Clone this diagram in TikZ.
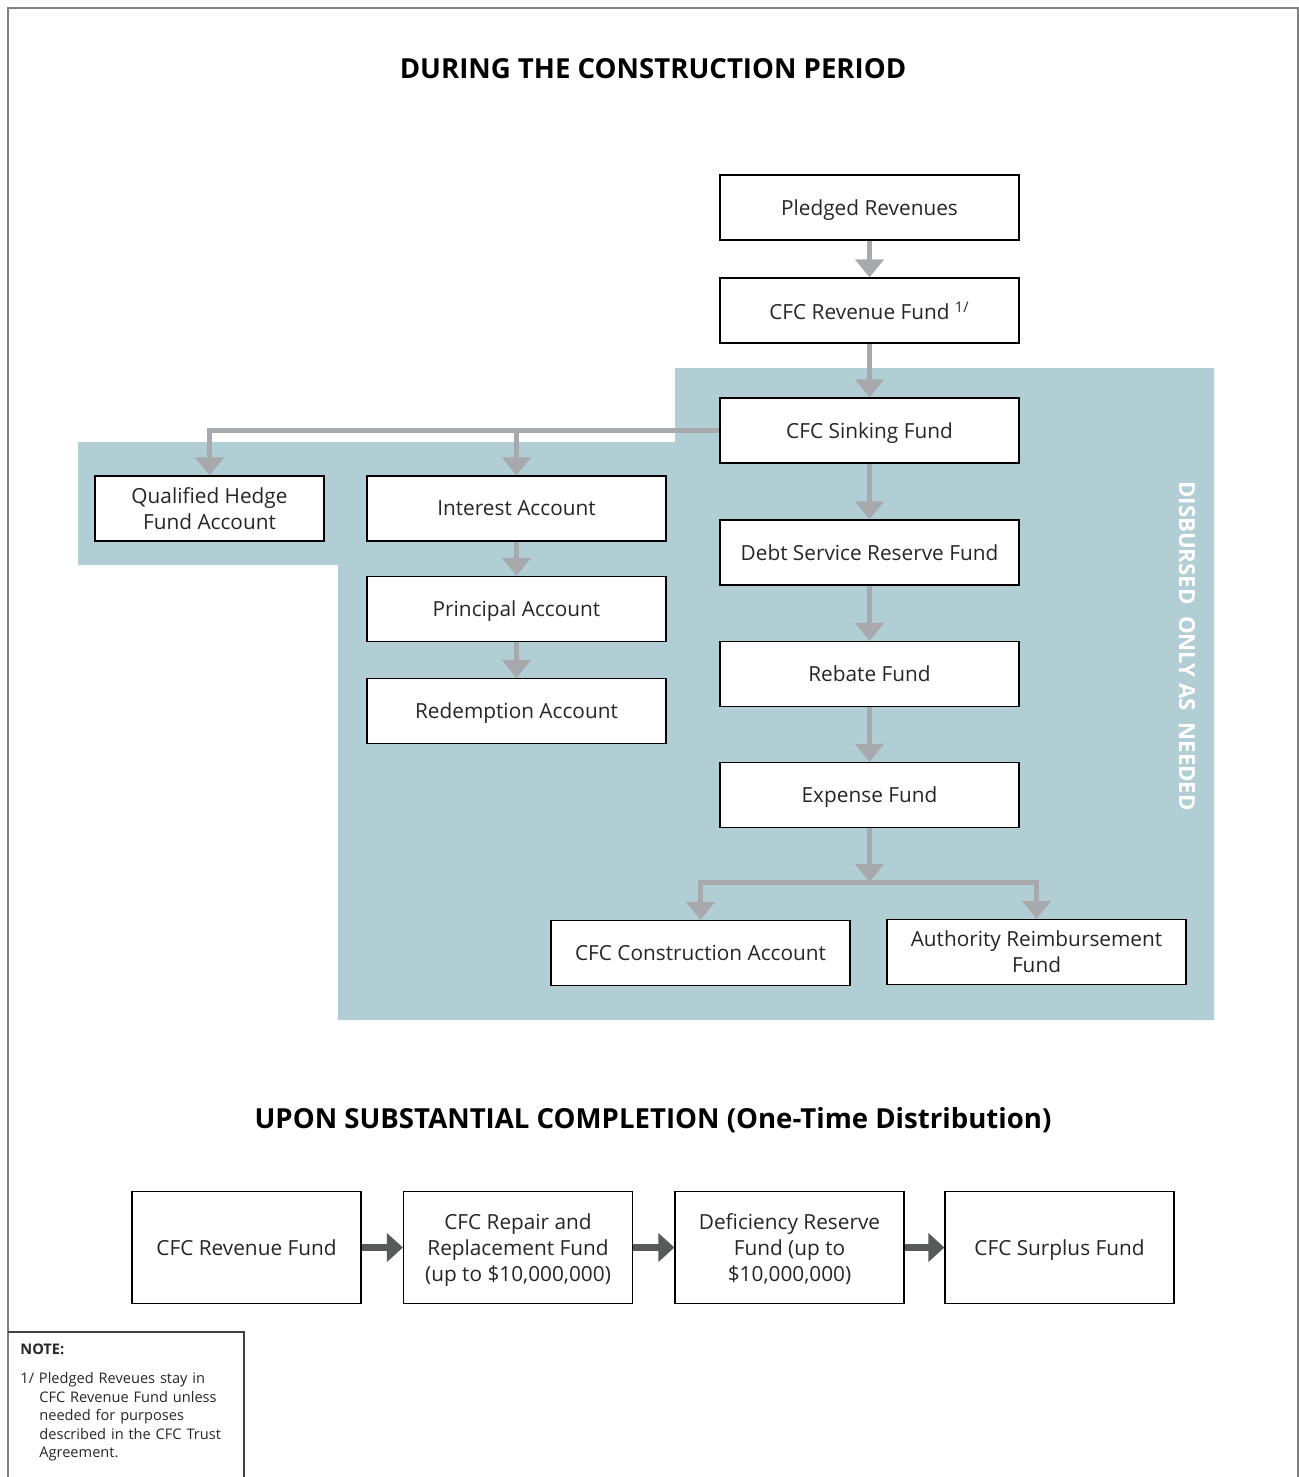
\documentclass[tikz,border=0pt]{standalone}
\usepackage{fontspec}
\setmainfont{Open Sans}
\usetikzlibrary{arrows.meta}

\definecolor{panel}{HTML}{B1CED4}
\definecolor{flowgrey}{HTML}{A7A9AC}
\definecolor{stepgrey}{HTML}{58595B}
\definecolor{boxtext}{HTML}{262626}

\begin{document}
\begin{tikzpicture}[
    x = 0.5pt, y = -0.5pt,
    fund/.style = {
      rectangle, draw, line width = 0.6pt, fill = white, text = boxtext,
      minimum width = 149.5pt, minimum height = 32.5pt, inner sep = 0pt,
      text depth = 0pt, align = center, font = \fontsize{10.4}{13}\selectfont
    },
    smallfund/.style = { fund, minimum width = 114.5pt },
    lastfund/.style = { fund, minimum width = 114.5pt, minimum height = 56pt },
    flow/.style = { draw = flowgrey, line width = 2.5pt,
      -{Triangle[width = 14pt, length = 9pt]} },
    onetime/.style = { draw = stepgrey, line width = 3.5pt,
      -{Triangle[width = 14pt, length = 8pt]} },
    heading/.style = { font = \fontsize{13.8}{16}\selectfont\bfseries }
  ]
      \useasboundingbox (0,0) rectangle (1299,1477);
      % frame and shaded area
      \draw [ gray, line width = 1pt ] (8,1477) -- (8,8) -- (1298,8) -- (1298,1477);
      \fill [ panel ] (675,368) -- (1214,368) -- (1214,1020) -- (338,1020)
        -- (338,565) -- (78,565) -- (78,442) -- (675,442) -- cycle;

      \node [ heading ] (title) at (653,69) {DURING THE CONSTRUCTION PERIOD};

      \node [ fund ] (pledged)    at (869.5,207.5) {Pledged Revenues};
      \node [ fund ] (revenue)    at (869.5,310.5) {CFC Revenue Fund \textsuperscript{1/}};
      \node [ fund ] (sinking)    at (869.5,430.5) {CFC Sinking Fund};
      \node [ smallfund ] (hedge) at (209.5,508.5) {Qualified Hedge\\Fund Account};
      \node [ fund ] (interest)   at (516.5,508.5) {Interest Account};
      \node [ fund ] (principal)  at (516.5,609)   {Principal Account};
      \node [ fund ] (redemption) at (516.5,711)   {Redemption Account};
      \node [ fund ] (debt)       at (869.5,552.5) {Debt Service Reserve Fund};
      \node [ fund ] (rebate)     at (869.5,674)   {Rebate Fund};
      \node [ fund ] (expense)    at (869.5,795)   {Expense Fund};
      \node [ fund ] (construct)  at (700.5,953)   {CFC Construction Account};
      \node [ fund ] (reimburse)  at (1036.5,952)  {Authority Reimbursement\\Fund};
      \coordinate (split) at (869.5,882);

      \node [ rotate = -90, text = white, font = \fontsize{11.1}{12}\selectfont\bfseries ]
        (disbursed) at (1187,646) {DISBURSED\ \ ONLY AS\ \ NEEDED};

      \draw [ flow ] (pledged) -- (revenue);
      \draw [ flow ] (revenue) -- (sinking);
      \draw [ flow ] (sinking) -- (debt);
      \draw [ flow ] (debt) -- (rebate);
      \draw [ flow ] (rebate) -- (expense);
      \draw [ flow ] (sinking.west) -| (hedge.north);
      \draw [ flow ] (sinking.west) -| (interest.north);
      \draw [ flow ] (interest) -- (principal);
      \draw [ flow ] (principal) -- (redemption);
      \draw [ flow ] (expense) -- (split);
      \draw [ flow ] (split) -| (construct.north);
      \draw [ flow ] (split) -| (reimburse.north);

      \node [ heading ] (title2) at (653,1120)
        {UPON SUBSTANTIAL COMPLETION (One-Time Distribution)};

      \node [ lastfund ] (cfcrev)  at (246.5,1247.5)  {CFC Revenue Fund};
      \node [ lastfund ] (repair)  at (518,1247.5)    {CFC Repair and\\Replacement Fund\\(up to \$10,000,000)};
      \node [ lastfund ] (deficit) at (789.5,1247.5)  {Deficiency Reserve\\Fund (up to\\\$10,000,000)};
      \node [ lastfund ] (surplus) at (1059.5,1247.5) {CFC Surplus Fund};

      \draw [ onetime ] (cfcrev) -- (repair);
      \draw [ onetime ] (repair) -- (deficit);
      \draw [ onetime ] (deficit) -- (surplus);

      % footnote box
      \draw [ darkgray, line width = 0.8pt ] (8,1332) -- (244,1332) -- (244,1477);
      \node [ anchor = west, inner sep = 0pt, font = \fontsize{7.3}{9}\selectfont\bfseries,
        text = boxtext ] (notehead) at (20,1349) {NOTE:};
      \node [ anchor = north west, text width = 110pt, align = left, inner sep = 0pt,
        font = \fontsize{7.3}{9.25}\selectfont, text = boxtext ] (notetext) at (20,1372)
        {1/ Pledged Reveues stay in\\
         \hspace*{9.5pt}CFC Revenue Fund unless\\
         \hspace*{9.5pt}needed for purposes\\
         \hspace*{9.5pt}described in the CFC Trust\\
         \hspace*{9.5pt}Agreement.};
\end{tikzpicture}
\end{document}
